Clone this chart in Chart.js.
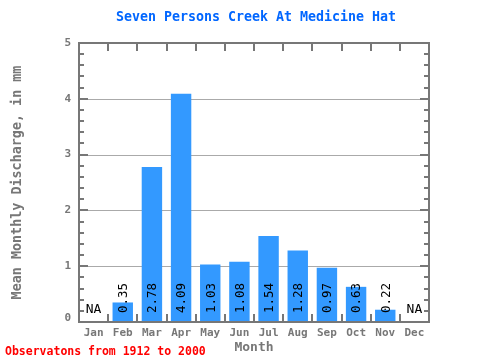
<!DOCTYPE html>
<html>
<head>
<meta charset="utf-8">
<script src="https://cdn.jsdelivr.net/npm/chart.js@4/dist/chart.umd.min.js"></script>
<style>
html,body{margin:0;padding:0;background:#fff;}
canvas{display:block;}
</style>
</head>
<body>
<canvas id="c" width="480" height="360"></canvas>
<script>
const months = ["Jan","Feb","Mar","Apr","May","Jun","Jul","Aug","Sep","Oct","Nov","Dec"];
const discharge = [null,0.35,2.78,4.09,1.03,1.08,1.54,1.28,0.97,0.63,0.22,null];
const valueLabels = ["NA","0.35","2.78","4.09","1.03","1.08","1.54","1.28","0.97","0.63","0.22","NA"];
const yTicks = [0,1,2,3,4,5];
const titleText = "Seven Persons Creek At Medicine Hat";
const yTitle = "Mean Monthly Discharge, in mm";
const xTitle = "Month";
const footer = "Observatons from 1912 to 2000";

const MONO = '"DejaVu Sans Mono", "Liberation Mono", monospace';
const AXIS = '#777777';

const decor = {
  id: 'decor',
  beforeDatasetsDraw(chart) {
    const ctx = chart.ctx, a = chart.chartArea, y = chart.scales.y;
    ctx.save();
    ctx.strokeStyle = '#aaaaaa';
    ctx.lineWidth = 1;
    yTicks.forEach(v => {
      if (v <= 0 || v >= 5) return;
      const py = Math.round(y.getPixelForValue(v)) + 0.5;
      ctx.beginPath(); ctx.moveTo(a.left, py); ctx.lineTo(a.right, py); ctx.stroke();
    });
    ctx.restore();
  },
  afterDatasetsDraw(chart) {
    const ctx = chart.ctx, a = chart.chartArea, x = chart.scales.x, y = chart.scales.y;
    ctx.save();
    // value labels
    ctx.fillStyle = '#000';
    months.forEach((m, i) => {
      const cx = x.getPixelForValue(i);
      if (discharge[i] === null) {
        ctx.font = '13px ' + MONO;
        ctx.textAlign = 'center';
        ctx.textBaseline = 'alphabetic';
        ctx.fillText(valueLabels[i], cx, a.bottom - 9);
      } else {
        ctx.save();
        ctx.translate(cx, a.bottom - 9);
        ctx.rotate(-Math.PI / 2);
        ctx.font = '12.5px ' + MONO;
        ctx.textAlign = 'left';
        ctx.textBaseline = 'middle';
        ctx.fillText(valueLabels[i], 0, 1);
        ctx.restore();
      }
    });
    // frame
    ctx.strokeStyle = AXIS;
    ctx.lineWidth = 2;
    ctx.strokeRect(a.left, a.top, a.right - a.left, a.bottom - a.top);
    // y minor / major ticks on both sides
    for (let k = 0; k <= 25; k++) {
      const v = k * 0.2;
      const py = Math.round(y.getPixelForValue(v));
      const major = (k % 5 === 0);
      const len = major ? 9 : 5;
      ctx.beginPath(); ctx.moveTo(a.left, py); ctx.lineTo(a.left + len, py); ctx.stroke();
      ctx.beginPath(); ctx.moveTo(a.right, py); ctx.lineTo(a.right - len, py); ctx.stroke();
    }
    // x category boundary ticks top and bottom
    const cw = (a.right - a.left) / months.length;
    for (let i = 1; i < months.length; i++) {
      const px = Math.round(a.left + i * cw);
      ctx.beginPath(); ctx.moveTo(px, a.top); ctx.lineTo(px, a.top + 8); ctx.stroke();
      ctx.beginPath(); ctx.moveTo(px, a.bottom); ctx.lineTo(px, a.bottom - 8); ctx.stroke();
    }
    // y tick labels
    ctx.fillStyle = AXIS;
    ctx.font = 'bold 11px ' + MONO;
    ctx.textAlign = 'right';
    ctx.textBaseline = 'middle';
    yTicks.forEach(v => {
      let py = y.getPixelForValue(v);
      if (v === 0) py -= 4;
      ctx.fillText(String(v), a.left - 8, py);
    });
    // x tick labels
    ctx.textAlign = 'center';
    ctx.textBaseline = 'middle';
    months.forEach((m, i) => {
      ctx.fillText(m, x.getPixelForValue(i), a.bottom + 11);
    });
    // axis titles
    ctx.font = 'bold 13px ' + MONO;
    ctx.fillText(xTitle, (a.left + a.right) / 2, 348);
    ctx.save();
    ctx.translate(18, (a.top + a.bottom) / 2);
    ctx.rotate(-Math.PI / 2);
    ctx.font = 'bold 13.4px ' + MONO;
    ctx.fillText(yTitle, 0, 0);
    ctx.restore();
    // title
    ctx.fillStyle = '#0066ff';
    ctx.font = 'bold 13.3px ' + MONO;
    ctx.fillText(titleText, 256, 18);
    // footer
    ctx.fillStyle = '#ff0000';
    ctx.font = 'bold 11.5px ' + MONO;
    ctx.textAlign = 'left';
    ctx.fillText(footer, 5, 352);
    ctx.restore();
  }
};

new Chart(document.getElementById('c'), {
  type: 'bar',
  data: {
    labels: months,
    datasets: [{
      data: discharge,
      backgroundColor: '#3399ff',
      borderWidth: 0,
      categoryPercentage: 1.0,
      barPercentage: 0.7
    }]
  },
  options: {
    responsive: false,
    animation: false,
    events: [],
    layout: { padding: { left: 79, right: 51, top: 43, bottom: 38 } },
    plugins: { legend: { display: false }, tooltip: { enabled: false }, title: { display: false } },
    scales: {
      x: { display: false, type: 'category' },
      y: { display: false, min: 0, max: 5 }
    }
  },
  plugins: [decor]
});
</script>
</body>
</html>
